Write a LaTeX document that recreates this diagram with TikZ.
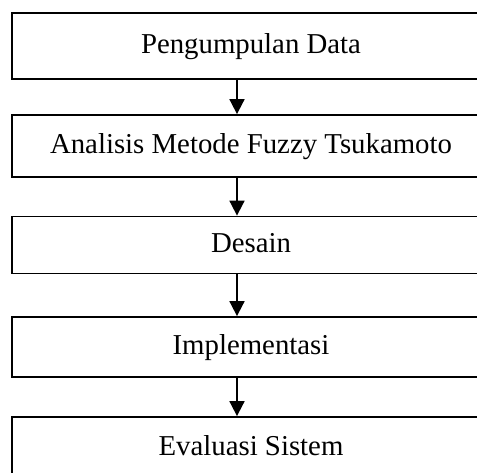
\documentclass[tikz,border=0pt]{standalone}
\usepackage{fontspec}
\setmainfont{Liberation Serif}
\usetikzlibrary{arrows.meta}
\begin{document}
\begin{tikzpicture}[x=1pt,y=-1pt,
  stage/.style={draw=black, line width=1.8pt, rectangle, minimum width=478pt,
    font=\fontsize{28.8}{34}\selectfont, text height=20pt, text depth=6pt, inner sep=0pt},
  flow/.style={line width=1.8pt, -{Triangle[width=15pt,length=15pt]}}]
  \useasboundingbox (0,0) rectangle (477,472);
  \clip (0,0) rectangle (477,472);
  \node[stage, minimum height=66pt] (s1) at (251,46) {Pengumpulan Data};
  \node[stage, minimum height=62pt] (s2) at (251,146) {Analisis Metode Fuzzy Tsukamoto};
  \node[stage, minimum height=57pt] (s3) at (251,245) {Desain};
  \node[stage, minimum height=60pt] (s4) at (251,347) {Implementasi};
  \node[stage, minimum height=62pt] (s5) at (251,448) {Evaluasi Sistem};
  \coordinate (ax) at (237,0);
  \draw[flow] (s1.south -| ax) -- (s2.north -| ax);
  \draw[flow] (s2.south -| ax) -- (s3.north -| ax);
  \draw[flow] (s3.south -| ax) -- (s4.north -| ax);
  \draw[flow] (s4.south -| ax) -- (s5.north -| ax);
\end{tikzpicture}
\end{document}
